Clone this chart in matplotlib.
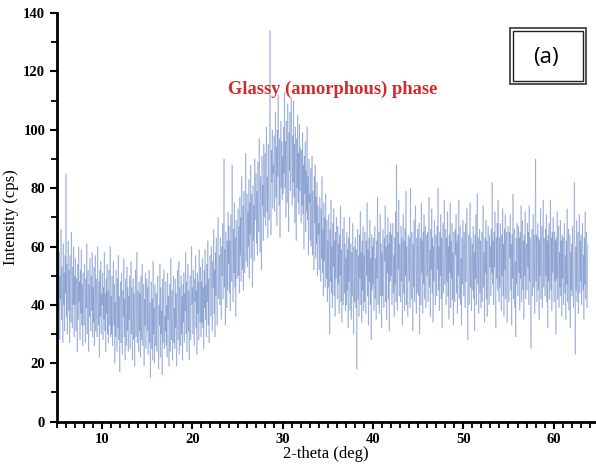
import numpy as np
import matplotlib.pyplot as plt
from matplotlib.patches import Rectangle
from matplotlib.collections import LineCollection
from matplotlib.ticker import MultipleLocator

# XRD scan, intensity read every 0.05 deg starting at 5.0 deg (one row = 1 deg)
start_deg = 5.0
step_deg = 0.05
intensity = [
    55, 32, 48, 65, 38, 58, 28, 50, 42, 66, 35, 53, 46, 27, 61, 40, 51, 31, 57, 44,  # 5
    85, 36, 54, 30, 48, 62, 38, 52, 27, 57, 43, 34, 65, 46, 32, 53, 40, 60, 29, 50,  # 6
    40, 56, 31, 49, 44, 24, 54, 35, 60, 41, 48, 28, 52, 37, 59, 33, 47, 26, 51, 43,  # 7
    33, 54, 45, 27, 49, 39, 61, 30, 44, 52, 24, 47, 36, 56, 42, 31, 50, 38, 58, 29,  # 8
    46, 34, 53, 26, 43, 57, 31, 49, 39, 29, 60, 41, 33, 48, 22, 52, 36, 55, 30, 44,  # 9
    40, 51, 28, 46, 35, 58, 31, 44, 24, 49, 37, 54, 30, 45, 27, 52, 41, 33, 60, 29,  # 10
    43, 30, 50, 26, 39, 55, 33, 47, 20, 41, 29, 52, 37, 24, 49, 32, 57, 28, 43, 17,  # 11
    40, 48, 27, 51, 34, 23, 45, 36, 56, 29, 42, 21, 49, 35, 26, 53, 31, 46, 24, 43,  # 12
    35, 50, 25, 42, 55, 30, 46, 21, 38, 49, 28, 44, 19, 40, 52, 29, 37, 58, 27, 45,  # 13
    39, 24, 48, 31, 44, 22, 50, 28, 40, 54, 26, 37, 47, 19, 42, 33, 51, 25, 35, 49,  # 14
    31, 46, 23, 38, 52, 27, 41, 15, 35, 48, 25, 42, 21, 55, 30, 39, 20, 47, 34, 26,  # 15
    44, 24, 37, 50, 29, 18, 40, 33, 54, 22, 46, 30, 38, 16, 49, 27, 41, 52, 25, 36,  # 16
    31, 48, 26, 40, 22, 51, 35, 43, 19, 34, 47, 24, 56, 37, 28, 45, 21, 41, 50, 27,  # 17
    39, 25, 49, 32, 44, 19, 41, 52, 28, 37, 55, 23, 46, 36, 26, 50, 30, 43, 21, 47,  # 18
    34, 51, 27, 44, 38, 58, 30, 48, 24, 39, 54, 31, 45, 21, 42, 50, 28, 36, 60, 40,  # 19
    46, 30, 52, 36, 26, 49, 41, 57, 32, 45, 23, 51, 37, 48, 28, 59, 42, 34, 53, 29,  # 20
    48, 34, 56, 32, 46, 25, 52, 39, 59, 35, 47, 29, 54, 41, 62, 33, 49, 27, 45, 57,  # 21
    51, 36, 60, 44, 31, 55, 46, 66, 37, 52, 29, 58, 43, 63, 40, 33, 54, 70, 42, 49,  # 22
    57, 40, 63, 47, 35, 60, 50, 68, 42, 55, 90, 46, 59, 33, 65, 52, 39, 62, 45, 72,  # 23
    54, 67, 44, 62, 38, 71, 55, 48, 88, 60, 41, 66, 51, 75, 46, 63, 36, 69, 57, 49,  # 24
    61, 73, 50, 67, 44, 77, 57, 70, 48, 84, 63, 52, 74, 45, 79, 60, 51, 69, 92, 55,  # 25
    66, 78, 53, 72, 60, 83, 49, 75, 64, 88, 56, 78, 68, 46, 81, 62, 74, 55, 90, 69,  # 26
    72, 85, 61, 79, 57, 89, 71, 65, 97, 77, 58, 84, 69, 52, 91, 74, 81, 62, 95, 70,  # 27
    78, 92, 67, 86, 101, 72, 84, 63, 95, 80, 69, 107, 134, 85, 64, 93, 82, 100, 73, 88,  # 28
    85, 98, 72, 91, 106, 77, 94, 67, 100, 84, 112, 89, 74, 97, 63, 92, 103, 80, 96, 76,  # 29
    91, 78, 101, 85, 113, 80, 96, 70, 103, 88, 75, 109, 92, 65, 99, 86, 106, 79, 93, 111,  # 30
    89, 74, 98, 82, 110, 77, 95, 68, 101, 85, 62, 97, 80, 105, 75, 92, 71, 102, 79, 94,  # 31
    84, 68, 93, 74, 99, 71, 88, 59, 91, 78, 96, 65, 86, 72, 101, 69, 84, 57, 90, 75,  # 32
    78, 62, 87, 60, 75, 91, 57, 79, 66, 52, 84, 68, 88, 56, 77, 61, 82, 50, 74, 64,  # 33
    68, 52, 77, 57, 48, 73, 56, 84, 51, 66, 43, 75, 55, 70, 46, 78, 58, 49, 69, 41,  # 34
    62, 46, 71, 51, 30, 66, 48, 76, 44, 60, 39, 68, 53, 73, 43, 62, 36, 65, 49, 70,  # 35
    58, 42, 67, 47, 61, 37, 64, 50, 74, 41, 59, 34, 56, 66, 40, 54, 70, 44, 61, 38,  # 36
    56, 40, 65, 45, 59, 32, 63, 48, 70, 38, 55, 61, 35, 58, 43, 68, 47, 30, 60, 41,  # 37
    54, 63, 39, 59, 18, 46, 66, 42, 57, 36, 64, 49, 72, 40, 58, 34, 62, 45, 67, 38,  # 38
    57, 41, 65, 47, 37, 62, 50, 75, 43, 59, 33, 63, 48, 69, 40, 56, 28, 64, 45, 60,  # 39
    47, 63, 38, 59, 67, 42, 56, 35, 62, 49, 77, 40, 58, 65, 37, 54, 71, 43, 61, 32,  # 40
    58, 43, 66, 50, 39, 63, 55, 74, 41, 60, 35, 64, 51, 70, 42, 61, 31, 65, 48, 68,  # 41
    50, 64, 40, 60, 68, 44, 57, 36, 63, 47, 72, 41, 88, 59, 38, 65, 52, 76, 43, 61,  # 42
    57, 41, 67, 48, 63, 33, 59, 71, 44, 62, 38, 66, 50, 79, 40, 60, 46, 36, 64, 52,  # 43
    48, 63, 39, 80, 55, 42, 65, 58, 31, 61, 46, 69, 41, 57, 74, 50, 37, 63, 44, 66,  # 44
    60, 43, 68, 30, 56, 63, 40, 75, 51, 62, 37, 65, 47, 71, 42, 59, 67, 39, 55, 64,  # 45
    50, 65, 41, 61, 77, 46, 59, 36, 66, 52, 73, 44, 63, 34, 60, 48, 69, 56, 40, 64,  # 46
    61, 43, 67, 52, 80, 45, 60, 38, 65, 50, 71, 42, 63, 32, 58, 68, 44, 61, 76, 47,  # 47
    56, 66, 40, 63, 48, 72, 43, 60, 35, 64, 51, 75, 39, 62, 49, 68, 42, 58, 33, 65,  # 48
    55, 41, 66, 57, 71, 44, 62, 37, 64, 50, 76, 42, 60, 67, 40, 56, 33, 63, 47, 69,  # 49
    58, 43, 65, 50, 39, 68, 48, 61, 73, 41, 28, 56, 64, 40, 60, 75, 46, 63, 38, 55,  # 50
    61, 45, 67, 42, 58, 31, 64, 49, 71, 40, 60, 78, 47, 63, 37, 56, 66, 44, 62, 39,  # 51
    50, 65, 41, 60, 74, 46, 58, 34, 63, 51, 69, 42, 62, 36, 57, 67, 48, 40, 64, 53,  # 52
    60, 43, 66, 51, 82, 47, 62, 40, 65, 53, 72, 42, 32, 63, 49, 68, 45, 76, 57, 41,  # 53
    63, 46, 68, 55, 38, 64, 50, 73, 43, 61, 36, 66, 52, 71, 42, 60, 65, 34, 57, 67,  # 54
    51, 41, 65, 56, 71, 45, 61, 33, 64, 49, 78, 42, 60, 66, 39, 55, 29, 63, 47, 68,  # 55
    57, 43, 67, 51, 63, 38, 65, 49, 74, 41, 60, 69, 45, 62, 35, 64, 50, 72, 42, 58,  # 56
    61, 45, 68, 53, 65, 40, 74, 48, 63, 38, 25, 57, 66, 43, 60, 71, 46, 64, 37, 56,  # 57
    90, 48, 64, 41, 60, 68, 45, 63, 35, 62, 50, 73, 42, 58, 67, 39, 56, 76, 46, 63,  # 58
    59, 43, 66, 50, 71, 41, 62, 32, 64, 48, 68, 42, 58, 76, 45, 63, 38, 65, 51, 70,  # 59
    56, 41, 65, 48, 62, 30, 63, 49, 72, 42, 60, 67, 39, 58, 46, 69, 43, 62, 36, 64,  # 60
    49, 63, 40, 59, 68, 44, 57, 35, 62, 47, 73, 41, 60, 66, 38, 55, 64, 32, 58, 45,  # 61
    61, 43, 67, 49, 39, 63, 82, 50, 23, 60, 45, 69, 41, 58, 65, 37, 56, 71, 44, 62,  # 62
    48, 64, 40, 60, 68, 45, 57, 35, 63, 47, 72, 42, 59, 65, 39, 55, 61,              # 63
]
two_theta = np.round(start_deg + step_deg * np.arange(len(intensity)), 2)

x_ticks = [10, 20, 30, 40, 50, 60]
y_ticks = [0, 20, 40, 60, 80, 100, 120, 140]

serif = ['Liberation Serif', 'DejaVu Serif']

fig = plt.figure(figsize=(5.96, 4.73), dpi=100)
ax = fig.add_axes([0.0956, 0.1085, 0.903, 0.864])

# draw each step as its own segment so overlapping strokes build up like the scan
pts = np.column_stack([two_theta, intensity])
segs = np.stack([pts[:-1], pts[1:]], axis=1)
ax.add_collection(LineCollection(segs, colors='#4a6fba', alpha=0.33, linewidths=0.8))

ax.set_xlim(5, 64.6)
ax.set_ylim(0, 140)
ax.set_xticks(x_ticks)
ax.set_yticks(y_ticks)
ax.xaxis.set_minor_locator(MultipleLocator(1))
ax.yaxis.set_minor_locator(MultipleLocator(10))

for s in ['top', 'right']:
    ax.spines[s].set_visible(False)
for s in ['left', 'bottom']:
    ax.spines[s].set_linewidth(2)

ax.tick_params(which='major', direction='out', length=5, width=1.5)
ax.tick_params(which='minor', direction='out', length=4, width=1.3)
for lab in ax.get_xticklabels() + ax.get_yticklabels():
    lab.set_family(serif)
    lab.set_fontweight('bold')
    lab.set_fontsize(10.5)

ax.set_xlabel('2-theta (deg)', family=serif, fontsize=12, labelpad=0)
ax.set_ylabel('Intensity (cps)', family=serif, fontsize=12, labelpad=3)

ax.text(35.5, 114, 'Glassy (amorphous) phase', color='#d42a2a', family=serif,
        fontweight='bold', fontsize=13.3, ha='center', va='center')

# "(a)" panel tag with double border
fig.patches.append(Rectangle((510 / 596, 389 / 473), 76 / 596, 56 / 473,
                             transform=fig.transFigure, fill=False, ec='#444444', lw=1.3))
fig.patches.append(Rectangle((513 / 596, 392 / 473), 70 / 596, 50 / 473,
                             transform=fig.transFigure, fill=False, ec='#222222', lw=1.0))
fig.text(546 / 596, 416 / 473, '(a)', family=['Open Sans', 'DejaVu Sans'],
         fontsize=16, ha='center', va='center')

fig.savefig('out.png', dpi=100)
